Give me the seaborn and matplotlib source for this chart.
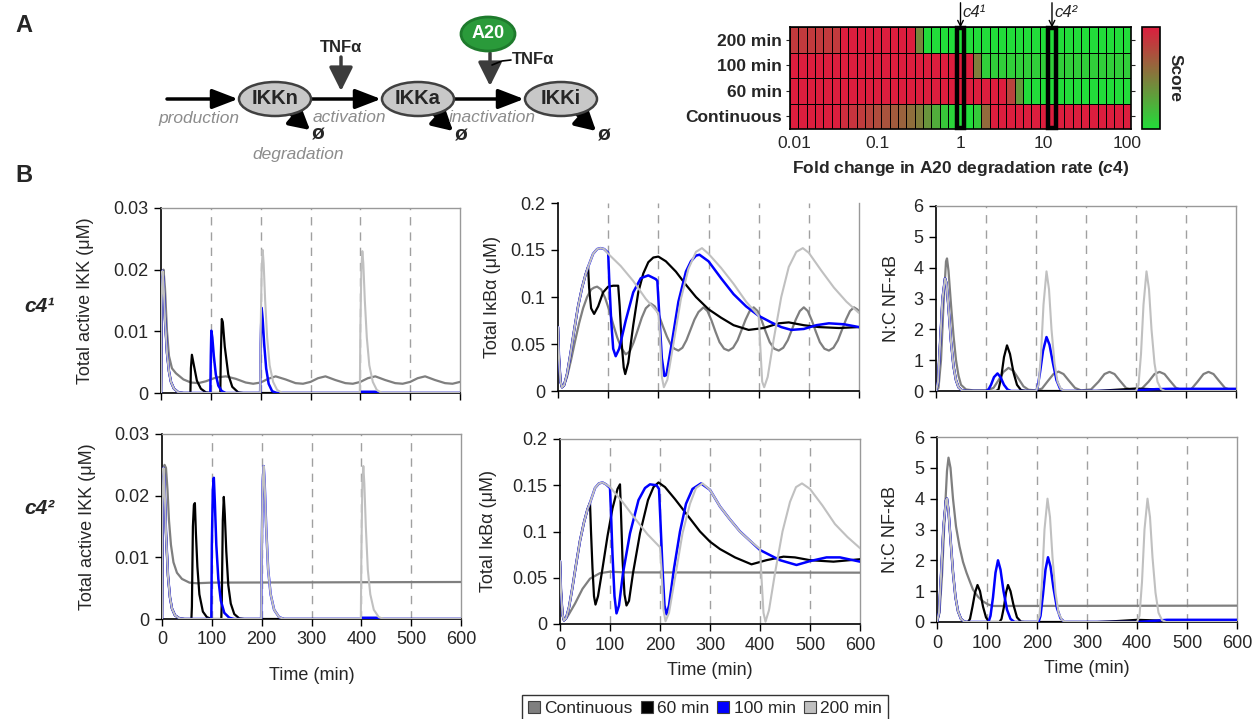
import matplotlib
matplotlib.use("Agg")
import numpy as np
import pandas as pd
import matplotlib.pyplot as plt
import seaborn as sns
from matplotlib.patches import Ellipse, Rectangle, Patch
from matplotlib.colors import LinearSegmentedColormap

# ---------------------------------------------------------------- data
HEAT_ROWS = ['200 min', '100 min', '60 min', 'Continuous']
FOLD_LOG = [round(-2 + 0.1 * i, 1) for i in range(41)]   # column categories: log10 fold change
FOLD_TICKS = [0.01, 0.1, 1, 10, 100]
FOLD_TICK_LABELS = ['0.01', '0.1', '1', '10', '100']
C4_MARK_LOG = [0.0, 1.1]
C4_MARK_LABELS = ['c4\u00b9', 'c4\u00b2']

# score: 1 = red, 0 = green
SCORE_200 = [0.85, 0.85, 0.85, 0.85, 0.85, 0.85, 1, 1, 1, 1, 1, 1, 1, 1, 1, 0.45,
             0, 0, 0, 0, 0, 0, 0, 0, 0, 0, 0, 0, 0, 0, 0, 0, 0, 0, 0, 0, 0, 0, 0, 0, 0]
SCORE_100 = [1, 1, 1, 1, 1, 1, 1, 1, 1, 1, 1, 1, 1, 1, 1, 1, 1, 1, 1, 1, 1, 1, 0.5,
             0.08, 0.08, 0.08, 0.08, 0.08, 0.08, 0.08, 0.08, 0.08, 0.08, 0.08, 0.08, 0.08, 0.08, 0.08, 0.08, 0.08, 0.08]
SCORE_60 = [1, 1, 1, 1, 1, 1, 1, 1, 1, 1, 1, 1, 1, 1, 1, 1, 1, 1, 1, 1, 1, 1, 1, 1, 1, 1, 0.8, 0.35,
            0, 0, 0, 0, 0, 0, 0, 0, 0, 0, 0, 0, 0]
SCORE_CONT = [1, 1, 1, 1, 1, 1, 0.92, 0.88, 0.84, 0.8, 0.76, 0.72, 0.68, 0.64, 0.58, 0.5, 0.38, 0.25, 0.12, 0.05,
              0, 0, 0.1, 0.6, 1, 1, 1, 1, 1, 1, 1, 1, 1, 1, 1, 1, 1, 1, 1, 1, 1]

SERIES = ['Continuous', '60 min', '100 min', '200 min']
SERIES_COLORS = ['#7f7f7f', '#000000', '#0000ff', '#c0c0c0']

# --- Total active IKK, c4^1
IKK1_CONT = [(0, 0), (2, 0.012), (5, 0.020), (8, 0.017), (12, 0.010), (16, 0.006), (22, 0.004), (30, 0.0032),
             (45, 0.0022), (60, 0.0017), (75, 0.0016), (90, 0.0019), (110, 0.0025), (130, 0.0027), (150, 0.0023),
             (170, 0.0017), (185, 0.0015), (200, 0.0017), (215, 0.0023), (230, 0.0027), (250, 0.0022),
             (270, 0.0016), (285, 0.0015), (300, 0.0018), (315, 0.0024), (330, 0.0027), (350, 0.0021),
             (370, 0.0016), (385, 0.0015), (400, 0.0018), (415, 0.0024), (430, 0.0027), (450, 0.0021),
             (470, 0.0016), (485, 0.0015), (500, 0.0018), (515, 0.0024), (530, 0.0027), (550, 0.0021),
             (570, 0.0016), (585, 0.0015), (600, 0.0018)]
IKK1_PULSE = [(0, 0), (1, 0.014), (3, 0.0198), (5, 0.018), (8, 0.012), (12, 0.0065), (16, 0.0035), (20, 0.0018),
              (26, 0.0007), (35, 0.0001), (45, 0)]
IKK1_60 = [(59, 0), (60, 0.004), (62, 0.0062), (66, 0.0045), (72, 0.002), (80, 0.0007), (90, 0.0001), (100, 0),
           (119, 0), (120, 0.006), (122, 0.012), (124, 0.0115), (128, 0.0075), (135, 0.003), (143, 0.001),
           (155, 0.0001), (165, 0), (600, 0)]
IKK1_100 = [(99, 0), (100, 0.006), (101, 0.0101), (103, 0.009), (106, 0.006), (110, 0.003), (115, 0.0012),
            (122, 0.0003), (130, 0), (199, 0), (200, 0.008), (202, 0.0138), (204, 0.012), (207, 0.008),
            (211, 0.004), (216, 0.0015), (223, 0.0003), (232, 0), (399, 0), (402, 0.0002), (430, 0.0002),
            (436, 0), (600, 0)]
IKK1_200 = [(199, 0), (200, 0.01), (202, 0.02), (204, 0.0232), (206, 0.021), (209, 0.015), (213, 0.009),
            (218, 0.0045), (225, 0.0018), (233, 0.0005), (243, 0), (399, 0), (400, 0.01), (402, 0.02),
            (404, 0.023), (406, 0.021), (409, 0.015), (413, 0.009), (418, 0.0045), (425, 0.0018),
            (433, 0.0005), (443, 0), (600, 0)]

# --- Total active IKK, c4^2
IKK2_CONT = [(0, 0), (2, 0.018), (5, 0.025), (8, 0.0245), (11, 0.021), (14, 0.016), (18, 0.012), (23, 0.0092),
             (30, 0.0075), (40, 0.0065), (55, 0.0059), (70, 0.0058), (100, 0.0059), (600, 0.006)]
IKK2_PULSE = [(0, 0), (1, 0.018), (3, 0.0245), (5, 0.022), (8, 0.014), (12, 0.007), (16, 0.0035), (20, 0.0017),
              (26, 0.0006), (35, 0.0001), (45, 0)]
IKK2_60 = [(59, 0), (60, 0.002), (62, 0.015), (64, 0.0185), (66, 0.0188), (68, 0.014), (71, 0.0085), (75, 0.004),
           (82, 0.0012), (90, 0.0003), (100, 0), (119, 0), (120, 0.003), (122, 0.016), (124, 0.0198),
           (126, 0.017), (129, 0.011), (133, 0.0055), (138, 0.0025), (145, 0.0008), (155, 0.0001), (165, 0),
           (600, 0)]
IKK2_100 = [(99, 0), (100, 0.012), (102, 0.021), (104, 0.0229), (106, 0.019), (109, 0.012), (113, 0.0065),
            (118, 0.003), (125, 0.001), (135, 0.0002), (145, 0), (199, 0), (200, 0.01), (202, 0.022),
            (204, 0.0248), (206, 0.022), (209, 0.015), (213, 0.008), (218, 0.004), (225, 0.0015),
            (235, 0.0003), (245, 0), (399, 0), (402, 0.0002), (430, 0.0002), (436, 0), (600, 0)]
IKK2_200 = [(199, 0), (200, 0.01), (202, 0.022), (204, 0.0248), (206, 0.022), (209, 0.015), (213, 0.008),
            (218, 0.004), (225, 0.0015), (235, 0.0003), (245, 0), (399, 0), (400, 0.01), (402, 0.022),
            (404, 0.0248), (406, 0.022), (409, 0.015), (413, 0.008), (418, 0.004), (425, 0.0015),
            (435, 0.0003), (445, 0), (600, 0)]

# --- Total IkBa, c4^1
IKB1_CONT = [(0, 0.068), (2, 0.035), (5, 0.01), (8, 0.004), (12, 0.006), (18, 0.015), (26, 0.033), (34, 0.053),
             (42, 0.072), (50, 0.088), (58, 0.1), (66, 0.108), (72, 0.11), (78, 0.111), (86, 0.108), (94, 0.099),
             (102, 0.086), (110, 0.071), (118, 0.057), (126, 0.046), (135, 0.039), (143, 0.042), (151, 0.052),
             (159, 0.065), (167, 0.078), (175, 0.088), (185, 0.093), (193, 0.09), (201, 0.081), (209, 0.069),
             (217, 0.058), (225, 0.049), (232, 0.045), (240, 0.043), (248, 0.046), (256, 0.054), (264, 0.065),
             (272, 0.076), (280, 0.084), (290, 0.089), (298, 0.085), (306, 0.075), (314, 0.063), (322, 0.052),
             (331, 0.045), (340, 0.043), (349, 0.046), (358, 0.054), (366, 0.065), (374, 0.076), (382, 0.085),
             (390, 0.089), (398, 0.085), (406, 0.075), (414, 0.063), (422, 0.052), (431, 0.045), (440, 0.043),
             (449, 0.046), (458, 0.054), (466, 0.065), (474, 0.076), (482, 0.085), (490, 0.089), (498, 0.085),
             (506, 0.075), (514, 0.063), (522, 0.052), (531, 0.045), (540, 0.043), (549, 0.046), (558, 0.054),
             (566, 0.065), (574, 0.076), (582, 0.085), (590, 0.089), (596, 0.087), (600, 0.085)]
IKB1_PULSE = [(0, 0.068), (2, 0.035), (5, 0.01), (8, 0.004), (12, 0.006), (18, 0.018), (25, 0.04), (32, 0.064),
              (40, 0.09), (48, 0.11), (55, 0.124), (60, 0.132)]
IKB1_60 = [(62, 0.11), (66, 0.088), (72, 0.082), (80, 0.09), (90, 0.105), (100, 0.111), (110, 0.112),
           (120, 0.112), (123, 0.09), (127, 0.05), (131, 0.025), (134, 0.018), (140, 0.03), (150, 0.07),
           (160, 0.105), (170, 0.125), (180, 0.137), (190, 0.142), (200, 0.143), (215, 0.138), (235, 0.127),
           (255, 0.113), (275, 0.1), (300, 0.087), (325, 0.078), (350, 0.07), (380, 0.065), (410, 0.067),
           (440, 0.072), (460, 0.073), (490, 0.07), (520, 0.068), (560, 0.067), (600, 0.068)]
IKB1_100 = [(70, 0.146), (78, 0.151), (85, 0.152), (92, 0.151), (100, 0.147), (102, 0.12), (106, 0.075),
            (110, 0.045), (115, 0.037), (122, 0.045), (135, 0.075), (150, 0.105), (165, 0.12), (180, 0.123),
            (195, 0.119), (198, 0.117), (202, 0.08), (207, 0.035), (212, 0.016), (216, 0.017), (225, 0.045),
            (240, 0.095), (255, 0.127), (265, 0.138), (275, 0.144), (282, 0.145), (300, 0.138), (325, 0.12),
            (350, 0.103), (375, 0.09), (400, 0.08), (425, 0.073), (445, 0.068), (465, 0.065), (490, 0.066),
            (515, 0.07), (540, 0.072), (570, 0.071), (600, 0.068)]
IKB1_200 = [(70, 0.146), (78, 0.151), (85, 0.152), (92, 0.151), (100, 0.146), (125, 0.133), (150, 0.117),
            (175, 0.098), (200, 0.083), (203, 0.06), (207, 0.015), (211, 0.004), (218, 0.012), (230, 0.05),
            (245, 0.098), (260, 0.13), (275, 0.148), (287, 0.152), (300, 0.146), (325, 0.131), (350, 0.114),
            (375, 0.095), (400, 0.08), (403, 0.05), (407, 0.01), (411, 0.004), (418, 0.015), (430, 0.055),
            (445, 0.1), (460, 0.132), (475, 0.148), (488, 0.152), (500, 0.147), (525, 0.128), (550, 0.11),
            (575, 0.095), (600, 0.083)]

# --- Total IkBa, c4^2
IKB2_CONT = [(0, 0.068), (2, 0.035), (5, 0.01), (8, 0.004), (15, 0.008), (30, 0.022), (45, 0.038), (60, 0.049),
             (80, 0.055), (100, 0.0565), (130, 0.0558), (600, 0.0555)]
IKB2_PULSE = [(0, 0.068), (2, 0.035), (5, 0.01), (8, 0.004), (12, 0.006), (18, 0.018), (25, 0.04), (32, 0.064),
              (40, 0.09), (48, 0.11), (55, 0.124), (60, 0.131)]
IKB2_60 = [(62, 0.1), (65, 0.06), (68, 0.03), (71, 0.021), (76, 0.03), (85, 0.06), (95, 0.095), (105, 0.125),
           (115, 0.146), (120, 0.151), (122, 0.12), (125, 0.07), (129, 0.032), (133, 0.02), (138, 0.025),
           (146, 0.055), (160, 0.098), (176, 0.134), (187, 0.148), (197, 0.153), (210, 0.148), (230, 0.135),
           (250, 0.121), (280, 0.1), (300, 0.089), (320, 0.081), (350, 0.072), (383, 0.0645), (413, 0.069),
           (447, 0.0728), (470, 0.072), (500, 0.069), (547, 0.0674), (600, 0.07)]
IKB2_100 = [(70, 0.147), (78, 0.152), (85, 0.153), (92, 0.151), (100, 0.147), (102, 0.12), (105, 0.075),
            (109, 0.03), (113, 0.0115), (118, 0.02), (126, 0.055), (140, 0.098), (157, 0.134), (170, 0.147),
            (180, 0.151), (193, 0.15), (198, 0.146), (201, 0.11), (205, 0.06), (209, 0.02), (213, 0.0105),
            (218, 0.02), (228, 0.06), (240, 0.1), (252, 0.13), (265, 0.146), (282, 0.152), (300, 0.145),
            (320, 0.127), (340, 0.113), (360, 0.1), (380, 0.09), (400, 0.08), (413, 0.0764), (440, 0.069),
            (473, 0.0638), (500, 0.068), (533, 0.072), (560, 0.072), (600, 0.0674)]
IKB2_200 = [(70, 0.147), (78, 0.152), (85, 0.153), (92, 0.151), (100, 0.148), (125, 0.132), (150, 0.114),
            (175, 0.097), (200, 0.083), (203, 0.06), (207, 0.015), (211, 0.003), (218, 0.012), (230, 0.05),
            (245, 0.098), (260, 0.13), (272, 0.147), (285, 0.152), (300, 0.145), (320, 0.127), (340, 0.113),
            (360, 0.0998), (380, 0.09), (400, 0.081), (403, 0.05), (407, 0.012), (411, 0.0025), (418, 0.015),
            (430, 0.055), (445, 0.1), (460, 0.132), (472, 0.148), (484, 0.152), (500, 0.146), (525, 0.128),
            (550, 0.108), (575, 0.094), (600, 0.082)]

# --- N:C NF-kB, c4^1
NC1_CONT = [(0, 0), (5, 0.1), (10, 1.0), (15, 2.8), (20, 4.2), (22, 4.3), (25, 3.9), (30, 2.8), (35, 1.8),
            (40, 1.0), (45, 0.5), (50, 0.2), (60, 0.05), (75, 0.02), (100, 0.02), (115, 0.1), (125, 0.35),
            (135, 0.62), (145, 0.75), (155, 0.65), (165, 0.4), (175, 0.15), (185, 0.04), (200, 0.02),
            (212, 0.08), (225, 0.35), (235, 0.55), (245, 0.63), (255, 0.55), (265, 0.35), (278, 0.1),
            (290, 0.02), (310, 0.05), (325, 0.3), (337, 0.55), (347, 0.62), (357, 0.55), (368, 0.33),
            (380, 0.1), (392, 0.03), (410, 0.05), (425, 0.3), (437, 0.55), (447, 0.62), (457, 0.55),
            (468, 0.33), (480, 0.1), (492, 0.03), (510, 0.05), (523, 0.3), (535, 0.55), (545, 0.62),
            (555, 0.55), (566, 0.33), (578, 0.1), (590, 0.03), (600, 0.03)]
NC1_PULSE = [(0, 0), (4, 0.3), (8, 1.5), (13, 3.0), (18, 3.65), (21, 3.5), (25, 2.7), (30, 1.6), (35, 0.8),
             (40, 0.35), (45, 0.12), (52, 0.02), (60, 0)]
NC1_60 = [(120, 0), (125, 0.05), (130, 0.4), (136, 1.1), (142, 1.48), (148, 1.2), (155, 0.6), (162, 0.2),
          (170, 0.03), (180, 0), (320, 0), (360, 0.04), (400, 0.08), (430, 0.06), (470, 0.05), (600, 0.05)]
NC1_100 = [(100, 0), (105, 0.05), (110, 0.2), (116, 0.45), (123, 0.57), (129, 0.45), (136, 0.2), (143, 0.05),
           (150, 0), (200, 0), (203, 0.1), (208, 0.6), (214, 1.3), (221, 1.75), (227, 1.5), (234, 0.9),
           (241, 0.35), (248, 0.08), (256, 0), (400, 0), (405, 0.03), (440, 0.06), (470, 0.07), (600, 0.07)]
NC1_200 = [(200, 0), (205, 0.2), (210, 1.2), (215, 2.8), (221, 3.88), (226, 3.3), (231, 2.0), (237, 0.9),
           (243, 0.3), (250, 0.06), (258, 0), (400, 0), (405, 0.2), (410, 1.2), (415, 2.8), (421, 3.88),
           (426, 3.3), (431, 2.0), (437, 0.9), (443, 0.3), (450, 0.06), (458, 0), (600, 0)]

# --- N:C NF-kB, c4^2
NC2_CONT = [(0, 0), (5, 0.3), (10, 1.5), (15, 3.3), (20, 4.9), (23, 5.33), (27, 5.0), (32, 4.0), (38, 3.1),
            (45, 2.45), (52, 1.95), (59, 1.6), (66, 1.3), (72, 1.05), (82, 0.82), (92, 0.67), (102, 0.57),
            (112, 0.52), (130, 0.52), (600, 0.53)]
NC2_PULSE = [(0, 0), (4, 0.3), (8, 1.5), (13, 3.1), (18, 3.95), (20, 4.0), (23, 3.6), (27, 2.7), (32, 1.6),
             (37, 0.8), (42, 0.35), (48, 0.1), (55, 0.01), (60, 0)]
NC2_60 = [(62, 0), (66, 0.1), (71, 0.5), (76, 0.95), (81, 1.2), (86, 1.0), (92, 0.5), (98, 0.15), (104, 0),
          (125, 0), (129, 0.1), (134, 0.5), (138, 0.95), (142, 1.2), (147, 1.0), (153, 0.55), (160, 0.15),
          (168, 0.01), (175, 0), (320, 0), (360, 0.03), (400, 0.07), (440, 0.05), (600, 0.05)]
NC2_100 = [(103, 0), (107, 0.2), (112, 0.8), (117, 1.6), (122, 2.0), (127, 1.7), (133, 1.0), (140, 0.4),
           (147, 0.1), (155, 0), (203, 0), (207, 0.2), (212, 0.9), (217, 1.7), (222, 2.1), (227, 1.8),
           (233, 1.1), (240, 0.45), (247, 0.12), (255, 0), (400, 0), (420, 0.02), (460, 0.07), (600, 0.07)]
NC2_200 = [(200, 0), (205, 0.2), (210, 1.3), (215, 3.0), (221, 4.0), (226, 3.4), (231, 2.1), (237, 0.95),
           (243, 0.3), (250, 0.06), (258, 0), (400, 0), (405, 0.2), (410, 1.3), (415, 3.0), (421, 4.0),
           (426, 3.4), (431, 2.1), (437, 0.95), (443, 0.3), (450, 0.06), (458, 0), (600, 0)]

TIME_TICKS = [0, 100, 200, 300, 400, 500, 600]
PULSE_TIMES = [100, 200, 300, 400, 500]

# ---------------------------------------------------------------- style
W, H = 1254, 719
sns.set_style('ticks')
plt.rcParams['font.family'] = ['Liberation Sans', 'DejaVu Sans']
plt.rcParams['mathtext.fontset'] = 'custom'
plt.rcParams['mathtext.it'] = 'Liberation Sans:italic:bold'
plt.rcParams['mathtext.rm'] = 'Liberation Sans:bold'
plt.rcParams['mathtext.bf'] = 'Liberation Sans:bold'

fig = plt.figure(figsize=(W / 100, H / 100), dpi=100)


def pax(l, t, r, b, **kw):
    return fig.add_axes([l / W, 1 - b / H, (r - l) / W, (b - t) / H], **kw)


# ---------------------------------------------------------------- diagram (A, left)
ov = pax(0, 0, W, H)
ov.set_xlim(0, W)
ov.set_ylim(H, 0)
ov.axis('off')

ov.text(24, 25, 'A', fontsize=17, fontweight='bold', ha='center', va='center')
ov.text(24, 175, 'B', fontsize=17, fontweight='bold', ha='center', va='center')
ov.text(39, 306, 'c4\u00b9', fontsize=15, fontweight='bold', fontstyle='italic', ha='center', va='center')
ov.text(39, 508, 'c4\u00b2', fontsize=15, fontweight='bold', fontstyle='italic', ha='center', va='center')

NODE_Y = 99
nodes = [('IKKn', 275), ('IKKa', 418), ('IKKi', 561)]
for name, cx in nodes:
    ov.add_patch(Ellipse((cx, NODE_Y), 72, 34, facecolor='#c8c8c8', edgecolor='#404040', lw=1.8, zorder=3))
    ov.text(cx, NODE_Y, name, fontsize=14.5, fontweight='bold', ha='center', va='center', zorder=4)


def arrow(x0, y0, x1, y1, color='black', lw=2.5, hl=1.3, hw=0.5, ms=12):
    ov.annotate('', xy=(x1, y1), xytext=(x0, y0),
                arrowprops=dict(arrowstyle=f'-|>,head_length={hl},head_width={hw}', lw=lw, color=color,
                                shrinkA=0, shrinkB=0, mutation_scale=ms), zorder=2)


arrow(167, NODE_Y, 238, NODE_Y)
arrow(312, NODE_Y, 381, NODE_Y)
arrow(454, NODE_Y, 524, NODE_Y)
grey_txt = '#8c8c8c'
ov.text(199, 118, 'production', fontsize=12.5, fontstyle='italic', color=grey_txt, ha='center', va='center')
ov.text(349, 118, 'activation', fontsize=12.5, fontstyle='italic', color=grey_txt, ha='center', va='center')
ov.text(492, 118, 'inactivation', fontsize=12.5, fontstyle='italic', color=grey_txt, ha='center', va='center')
ov.text(298, 154, 'degradation', fontsize=12.5, fontstyle='italic', color=grey_txt, ha='center', va='center')

# TNFa activation input
ov.text(341, 47, 'TNF\u03b1', fontsize=12, fontweight='bold', ha='center', va='center')
arrow(341, 57, 341, 91, color='#3c3c3c', lw=2.5, hl=1.2, hw=0.6)
# A20 + TNFa inactivation input
ov.add_patch(Ellipse((488, 34), 54, 34, facecolor='#2a9a3a', edgecolor='#1e7a2c', lw=2, zorder=3))
ov.text(488, 34, 'A20', fontsize=13, fontweight='bold', color='white', ha='center', va='center', zorder=4)
arrow(490, 53, 490, 86, color='#3c3c3c', lw=2.5, hl=1.2, hw=0.6)
ov.plot([492, 502, 511], [65, 61, 60], color='black', lw=1.2)
ov.text(533, 60, 'TNF\u03b1', fontsize=12, fontweight='bold', ha='center', va='center')

# degradation
for (x0, y0, x1, y1, xs, ys) in [(290, 113, 310, 130, 318, 134), (433, 113, 453, 131, 461, 135),
                                  (576, 113, 596, 131, 604, 135)]:
    arrow(x0, y0, x1, y1, lw=3, hl=1.0, hw=0.55)
    ov.text(xs, ys, '\u00f8', fontsize=15, fontweight='bold', ha='center', va='center')

# ---------------------------------------------------------------- heatmap (A, right)
hax = pax(790, 27, 1131, 129)
cax = pax(1142, 27, 1160, 129)
score_df = pd.DataFrame([SCORE_200, SCORE_100, SCORE_60, SCORE_CONT], index=HEAT_ROWS, columns=FOLD_LOG)
score_cmap = LinearSegmentedColormap.from_list('score', ['#22dd3a', '#dd1e3e'])
sns.heatmap(score_df, ax=hax, cbar_ax=cax, cmap=score_cmap, vmin=0, vmax=1, linewidths=0.6, linecolor='black',
            xticklabels=False, yticklabels=False)
tick_idx = [FOLD_LOG.index(round(float(np.log10(v)), 1)) + 0.5 for v in FOLD_TICKS]
hax.set_xticks(tick_idx)
hax.set_xticklabels(FOLD_TICK_LABELS, fontsize=12.5, rotation=0)
hax.set_yticks([i + 0.5 for i in range(len(HEAT_ROWS))])
hax.set_yticklabels(HEAT_ROWS, fontsize=12.5, fontweight='bold', rotation=0)
hax.tick_params(axis='x', length=0, pad=5)
hax.tick_params(axis='y', length=3, width=0.8, pad=3, right=True, left=True)
for s in hax.spines.values():
    s.set_visible(True)
    s.set_color('black')
    s.set_linewidth(1.2)
hax.set_xlabel(r'Fold change in A20 degradation rate ($\mathit{c4}$)', fontsize=12.5, fontweight='bold')
hax.xaxis.set_label_coords(0.5, -0.29)
hax.set_ylabel('')
for lg, lab in zip(C4_MARK_LOG, C4_MARK_LABELS):
    ci = FOLD_LOG.index(lg)
    hax.add_patch(Rectangle((ci + 0.04, 0.02), 0.92, len(HEAT_ROWS) - 0.04, fill=False, edgecolor='black',
                            lw=3.2, clip_on=False, zorder=10))
    hax.annotate('', xy=(ci + 0.5, 0.02), xytext=(ci + 0.5, -0.95),
                 arrowprops=dict(arrowstyle='->', lw=1.0, color='black', shrinkA=0, shrinkB=0),
                 annotation_clip=False)
    hax.text(ci + 0.75, -0.55, lab, fontsize=12, fontstyle='italic', ha='left', va='center', clip_on=False)

cbar = hax.collections[0].colorbar
cbar.set_ticks([])
cbar.outline.set_edgecolor('black')
cbar.outline.set_linewidth(1.2)
cax.text(1.85, 0.5, 'Score', rotation=270, fontsize=12.5, fontweight='bold', ha='center', va='center',
         transform=cax.transAxes)

# ---------------------------------------------------------------- time courses (B)
panel_data = {
    (0, 0): (IKK1_CONT, IKK1_PULSE, IKK1_60, IKK1_100, IKK1_200),
    (1, 0): (IKK2_CONT, IKK2_PULSE, IKK2_60, IKK2_100, IKK2_200),
    (0, 1): (IKB1_CONT, IKB1_PULSE, IKB1_60, IKB1_100, IKB1_200),
    (1, 1): (IKB2_CONT, IKB2_PULSE, IKB2_60, IKB2_100, IKB2_200),
    (0, 2): (NC1_CONT, NC1_PULSE, NC1_60, NC1_100, NC1_200),
    (1, 2): (NC2_CONT, NC2_PULSE, NC2_60, NC2_100, NC2_200),
}
panel_box = {
    (0, 0): (161, 208, 460, 393), (0, 1): (558, 203, 859, 391), (0, 2): (936, 206, 1236, 391),
    (1, 0): (162, 434, 461, 619), (1, 1): (560, 439, 860, 624), (1, 2): (937, 437, 1237, 622),
}
col_y = [
    ('Total active IKK (\u03bcM)', [0, 0.01, 0.02, 0.03], ['0', '0.01', '0.02', '0.03']),
    ('Total I\u03baB\u03b1 (\u03bcM)', [0, 0.05, 0.1, 0.15, 0.2], ['0', '0.05', '0.1', '0.15', '0.2']),
    ('N:C NF-\u03baB', [0, 1, 2, 3, 4, 5, 6], ['0', '1', '2', '3', '4', '5', '6']),
]
ylabel_x = {(0, 0): -0.225, (1, 0): -0.222, (0, 1): -0.19, (1, 1): -0.21, (0, 2): -0.12, (1, 2): -0.127}
xlabel_y = {0: -0.26, 1: -0.205, 2: -0.205}
lws = [1.6, 1.6, 1.8, 1.5]

for (r, c), (cont, pulse, s60, s100, s200) in panel_data.items():
    ax = pax(*panel_box[(r, c)])
    series_pts = [cont, pulse + s60, pulse + s100, pulse + s200]
    for pts, col, lw in zip(series_pts, SERIES_COLORS, lws):
        t = [p[0] for p in pts]
        v = [p[1] for p in pts]
        sns.lineplot(x=t, y=v, ax=ax, color=col, lw=lw, estimator=None, sort=False, zorder=3)
    for xv in PULSE_TIMES:
        ax.axvline(xv, color='#a0a0a0', lw=1.0, ls=(0, (6, 5)), zorder=1)
    ylab, yt, ytl = col_y[c]
    ax.set_xlim(0, 600)
    ax.set_ylim(yt[0], yt[-1])
    ax.set_yticks(yt)
    ax.set_yticklabels(ytl)
    ax.set_xticks(TIME_TICKS)
    ax.tick_params(axis='both', labelsize=13, length=5, width=1, direction='out', color='black', pad=4)
    ax.set_ylabel(ylab, fontsize=13)
    ax.yaxis.set_label_coords(ylabel_x[(r, c)], 0.5)
    if r == 0:
        ax.tick_params(axis='x', labelbottom=False)
        ax.set_xlabel('')
    else:
        ax.set_xticklabels([str(v) for v in TIME_TICKS])
        ax.set_xlabel('Time (min)', fontsize=13)
        ax.xaxis.set_label_coords(0.5, xlabel_y[c])
    for side in ['left', 'bottom']:
        ax.spines[side].set_color('black')
        ax.spines[side].set_linewidth(1.2)
    for side in ['top', 'right']:
        ax.spines[side].set_visible(True)
        ax.spines[side].set_color('#999999')
        ax.spines[side].set_linewidth(1.0)
    if (r, c) == (0, 1):
        ax.spines['top'].set_visible(False)

handles = [Patch(facecolor=col, edgecolor='#404040', lw=0.8) for col in SERIES_COLORS]
leg = fig.legend(handles, SERIES, loc='upper center', bbox_to_anchor=(705 / W, 1 - 695 / H), ncol=4,
                 fontsize=12.5, frameon=True, fancybox=False, edgecolor='black', handlelength=0.7,
                 handleheight=0.7, handletextpad=0.25, columnspacing=0.45, borderpad=0.35, borderaxespad=0)
leg.get_frame().set_linewidth(1.0)

fig.savefig('out.png', dpi=100)
